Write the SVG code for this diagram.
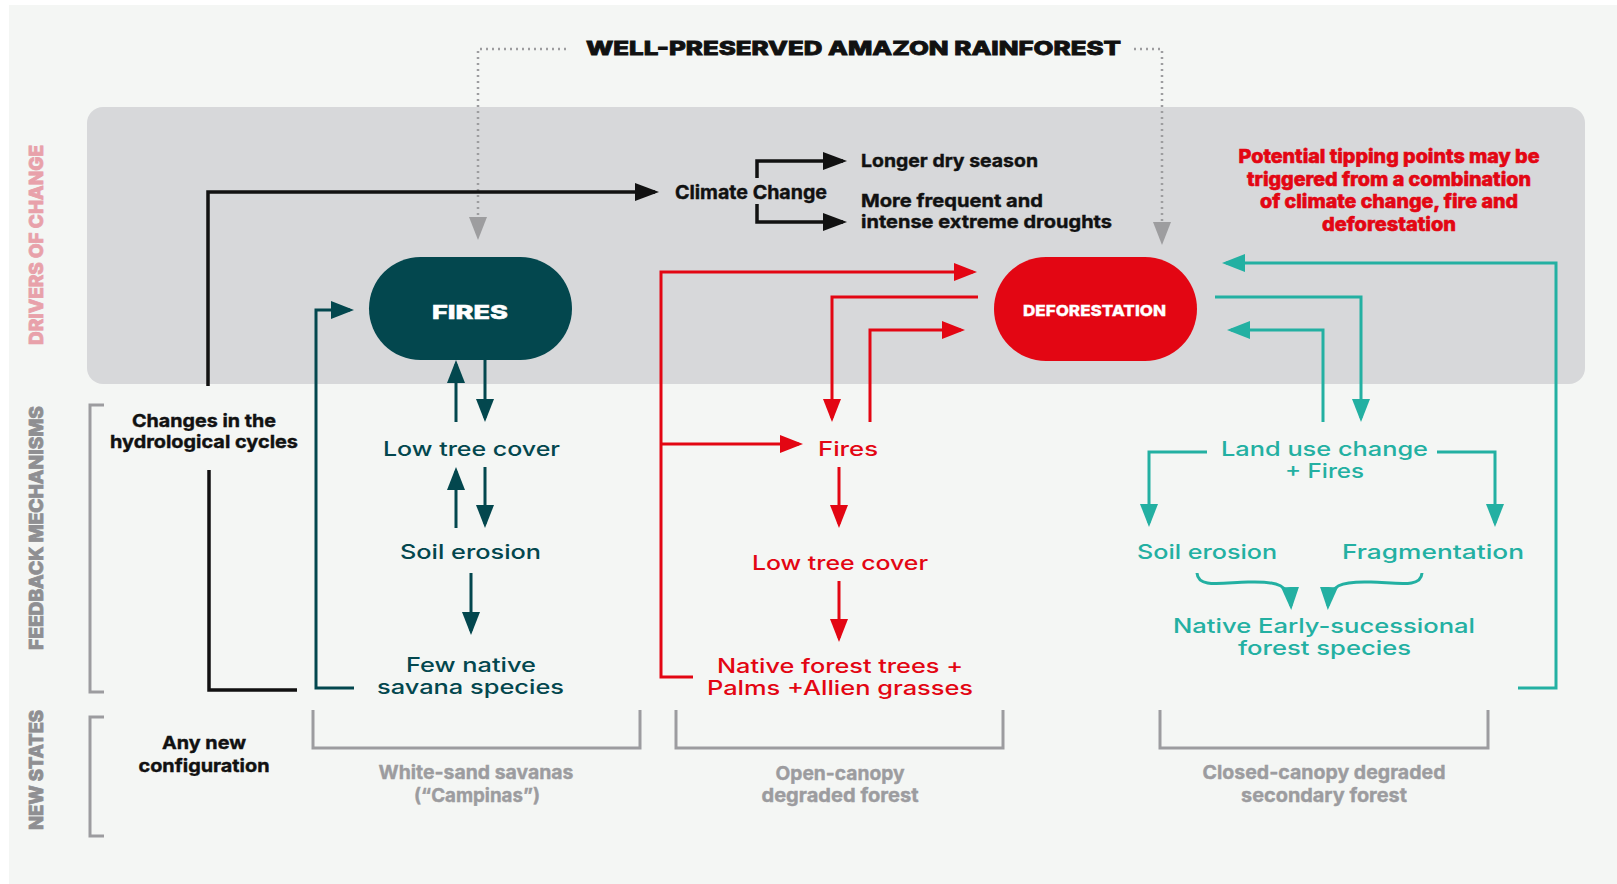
<svg xmlns="http://www.w3.org/2000/svg" width="1617" height="884" viewBox="0 0 1617 884">
<defs>
<style>
.bold{font-family:Inter,"Liberation Sans",Arial,sans-serif;font-weight:700}
.heavy{font-family:Inter,"Liberation Sans",Arial,sans-serif;font-weight:800}
.wide{font-family:Inter,"DejaVu Sans","Liberation Sans",sans-serif;font-size:20px;font-weight:500}
.blk{fill:#111;stroke:#111;stroke-width:0.4}
.blkh{fill:#111;stroke:#111;stroke-width:0.8}
.dk{fill:#03474e}
.rd{fill:#e30613}
.rdh{fill:#e30613;stroke:#e30613;stroke-width:0.6}
.tl{fill:#23b0a2}
.gr{fill:#9c9c9f;stroke:#9c9c9f;stroke-width:0.4}
.ln{fill:none;stroke-width:3;stroke-linejoin:miter}
.lblk{stroke:#111;stroke-width:3.5}
.ldk{stroke:#03474e}
.lrd{stroke:#e30613}
.ltl{stroke:#23b0a2}
.lgr{stroke:#9c9c9f}
.dot{fill:none;stroke:#9d9d9f;stroke-width:2.5;stroke-dasharray:2 4}
</style>
<marker id="aBlk" markerUnits="userSpaceOnUse" viewBox="0 0 24 18" markerWidth="24" markerHeight="18" refX="20" refY="9" orient="auto"><path d="M0,0 L24,9 L0,18 z" fill="#111"/></marker>
<marker id="aDk" markerUnits="userSpaceOnUse" viewBox="0 0 23 18" markerWidth="23" markerHeight="18" refX="19" refY="9" orient="auto"><path d="M0,0 L23,9 L0,18 z" fill="#03474e"/></marker>
<marker id="aRd" markerUnits="userSpaceOnUse" viewBox="0 0 23 18" markerWidth="23" markerHeight="18" refX="19" refY="9" orient="auto"><path d="M0,0 L23,9 L0,18 z" fill="#e30613"/></marker>
<marker id="aTl" markerUnits="userSpaceOnUse" viewBox="0 0 23 18" markerWidth="23" markerHeight="18" refX="19" refY="9" orient="auto"><path d="M0,0 L23,9 L0,18 z" fill="#23b0a2"/></marker>
<marker id="aGr" markerUnits="userSpaceOnUse" viewBox="0 0 23 18" markerWidth="23" markerHeight="18" refX="19" refY="9" orient="auto"><path d="M0,0 L23,9 L0,18 z" fill="#9d9d9f"/></marker>
</defs>
<rect width="1617" height="884" fill="#ffffff"/>
<rect x="9" y="5" width="1608" height="879" fill="#f4f6f4"/>
<rect id="drivers-panel" x="87" y="107" width="1498" height="277" rx="16" fill="#d7d8da"/>

<g id="section-labels" class="heavy" font-size="19" stroke-width="0.8">
<text transform="translate(43,245) rotate(-90)" text-anchor="middle" textLength="200" lengthAdjust="spacingAndGlyphs" fill="#e8a1aa" stroke="#e8a1aa">DRIVERS OF CHANGE</text>
<text transform="translate(43,528) rotate(-90)" text-anchor="middle" textLength="244" lengthAdjust="spacingAndGlyphs" fill="#8f8f92" stroke="#8f8f92">FEEDBACK MECHANISMS</text>
<text transform="translate(43,770) rotate(-90)" text-anchor="middle" textLength="120" lengthAdjust="spacingAndGlyphs" fill="#8f8f92" stroke="#8f8f92">NEW STATES</text>
</g>

<g id="brackets" class="ln lgr">
<path d="M104,405 H90 V692 H104"/>
<path d="M104,717 H90 V836 H104"/>
<path d="M313,710 V748 H640 V710"/>
<path d="M676,710 V748 H1003 V710"/>
<path d="M1160,710 V748 H1488 V710"/>
</g>

<g id="connectors">
<path class="dot" d="M566,49 H478 V236" marker-end="url(#aGr)"/>
<path class="dot" d="M1134,49 H1162 V241" marker-end="url(#aGr)"/>
<path class="ln lblk" d="M208,386 V192 H655" marker-end="url(#aBlk)"/>
<path class="ln lblk" d="M757,178 V161 H843" marker-end="url(#aBlk)"/>
<path class="ln lblk" d="M757,204 V222 H843" marker-end="url(#aBlk)"/>
<path class="ln lblk" d="M209,470 V690 H297"/>
<path class="ln ldk" d="M354,688 H316 V310 H350" marker-end="url(#aDk)"/>
<path class="ln ldk" d="M456,422 V364" marker-end="url(#aDk)"/>
<path class="ln ldk" d="M485,360 V418" marker-end="url(#aDk)"/>
<path class="ln ldk" d="M456,528 V471" marker-end="url(#aDk)"/>
<path class="ln ldk" d="M485,467 V524" marker-end="url(#aDk)"/>
<path class="ln ldk" d="M471,573 V631" marker-end="url(#aDk)"/>
<path class="ln lrd" d="M693,677 H661 V272 H973" marker-end="url(#aRd)"/>
<path class="ln lrd" d="M661,444 H799" marker-end="url(#aRd)"/>
<path class="ln lrd" d="M978,297 H832 V418" marker-end="url(#aRd)"/>
<path class="ln lrd" d="M870,422 V330 H961" marker-end="url(#aRd)"/>
<path class="ln lrd" d="M839,467 V524" marker-end="url(#aRd)"/>
<path class="ln lrd" d="M839,581 V638" marker-end="url(#aRd)"/>
<path class="ln ltl" d="M1518,688 H1556 V263 H1226" marker-end="url(#aTl)"/>
<path class="ln ltl" d="M1215,297 H1361 V418" marker-end="url(#aTl)"/>
<path class="ln ltl" d="M1323,422 V330 H1231" marker-end="url(#aTl)"/>
<path class="ln ltl" d="M1207,452 H1149 V523" marker-end="url(#aTl)"/>
<path class="ln ltl" d="M1437,452 H1495 V523" marker-end="url(#aTl)"/>
<path class="ln ltl" d="M1197,573 C1198,588 1220,583 1248,582 C1278,581 1290,585 1291,606" marker-end="url(#aTl)"/>
<path class="ln ltl" d="M1422,573 C1421,588 1399,583 1371,582 C1341,581 1329,585 1328,606" marker-end="url(#aTl)"/>
</g>

<g id="title" class="heavy blkh" font-size="19">
<text x="586" y="55" textLength="535" lengthAdjust="spacingAndGlyphs">WELL-PRESERVED AMAZON RAINFOREST</text>
</g>

<g id="node-fires">
<rect x="369" y="257" width="203" height="103" rx="51.5" fill="#03474e"/>
<text class="heavy" x="432" y="319" font-size="19" fill="#ffffff" stroke="#ffffff" stroke-width="0.5" textLength="76" lengthAdjust="spacingAndGlyphs">FIRES</text>
</g>
<g id="node-deforestation">
<rect x="994" y="257" width="203" height="104" rx="52" fill="#e30613"/>
<text class="heavy" x="1023" y="316" font-size="15" fill="#ffffff" stroke="#ffffff" stroke-width="0.3" textLength="143" lengthAdjust="spacingAndGlyphs">DEFORESTATION</text>
</g>

<g id="node-climate-change" class="bold blk" font-size="19">
<text x="675" y="199" textLength="152" lengthAdjust="spacingAndGlyphs">Climate Change</text>
</g>
<g id="node-longer-dry-season" class="bold blk" font-size="18">
<text x="861" y="167" textLength="177" lengthAdjust="spacingAndGlyphs">Longer dry season</text>
</g>
<g id="node-droughts" class="bold blk" font-size="18">
<text x="861" y="207" textLength="182" lengthAdjust="spacingAndGlyphs">More frequent and</text>
<text x="861" y="228" textLength="251" lengthAdjust="spacingAndGlyphs">intense extreme droughts</text>
</g>
<g id="note-tipping-points" class="heavy rdh" font-size="19" text-anchor="middle">
<text x="1389" y="163" textLength="301" lengthAdjust="spacingAndGlyphs">Potential tipping points may be</text>
<text x="1389" y="186" textLength="284" lengthAdjust="spacingAndGlyphs">triggered from a combination</text>
<text x="1389" y="208" textLength="258" lengthAdjust="spacingAndGlyphs">of climate change, fire and</text>
<text x="1389" y="231" textLength="134" lengthAdjust="spacingAndGlyphs">deforestation</text>
</g>

<g id="node-hydrological" class="bold blk" font-size="18" text-anchor="middle">
<text x="204" y="427" textLength="144" lengthAdjust="spacingAndGlyphs">Changes in the</text>
<text x="204" y="448" textLength="188" lengthAdjust="spacingAndGlyphs">hydrological cycles</text>
</g>
<g id="node-any-new" class="bold blk" font-size="18" text-anchor="middle">
<text x="204" y="749" textLength="84" lengthAdjust="spacingAndGlyphs">Any new</text>
<text x="204" y="772" textLength="131" lengthAdjust="spacingAndGlyphs">configuration</text>
</g>

<g id="node-low-tree-cover-1" class="wide dk">
<text x="383" y="456" textLength="177" lengthAdjust="spacingAndGlyphs">Low tree cover</text>
</g>
<g id="node-soil-erosion-1" class="wide dk">
<text x="400" y="559" textLength="141" lengthAdjust="spacingAndGlyphs">Soil erosion</text>
</g>
<g id="node-few-native" class="wide dk">
<text x="406" y="672" textLength="130" lengthAdjust="spacingAndGlyphs">Few native</text>
<text x="377" y="694" textLength="187" lengthAdjust="spacingAndGlyphs">savana species</text>
</g>

<g id="node-fires-2" class="wide rd">
<text x="818" y="456" textLength="60" lengthAdjust="spacingAndGlyphs">Fires</text>
</g>
<g id="node-low-tree-cover-2" class="wide rd">
<text x="752" y="570" textLength="176" lengthAdjust="spacingAndGlyphs">Low tree cover</text>
</g>
<g id="node-native-forest" class="wide rd">
<text x="717" y="673" textLength="246" lengthAdjust="spacingAndGlyphs">Native forest trees +</text>
<text x="707" y="695" textLength="266" lengthAdjust="spacingAndGlyphs">Palms +Allien grasses</text>
</g>

<g id="node-land-use" class="wide tl">
<text x="1221" y="456" textLength="207" lengthAdjust="spacingAndGlyphs">Land use change</text>
<text x="1285" y="478" textLength="79" lengthAdjust="spacingAndGlyphs">+ Fires</text>
</g>
<g id="node-soil-erosion-3" class="wide tl">
<text x="1137" y="559" textLength="140" lengthAdjust="spacingAndGlyphs">Soil erosion</text>
</g>
<g id="node-fragmentation" class="wide tl">
<text x="1342" y="559" textLength="182" lengthAdjust="spacingAndGlyphs">Fragmentation</text>
</g>
<g id="node-native-early" class="wide tl">
<text x="1173" y="633" textLength="302" lengthAdjust="spacingAndGlyphs">Native Early-sucessional</text>
<text x="1238" y="655" textLength="173" lengthAdjust="spacingAndGlyphs">forest species</text>
</g>

<g id="state-white-sand" class="bold gr" font-size="19" text-anchor="middle">
<text x="476" y="779" textLength="195" lengthAdjust="spacingAndGlyphs">White-sand savanas</text>
<text x="477" y="802" textLength="126" lengthAdjust="spacingAndGlyphs">(“Campinas”)</text>
</g>
<g id="state-open-canopy" class="bold gr" font-size="19" text-anchor="middle">
<text x="840" y="780" textLength="129" lengthAdjust="spacingAndGlyphs">Open-canopy</text>
<text x="840" y="802" textLength="157" lengthAdjust="spacingAndGlyphs">degraded forest</text>
</g>
<g id="state-closed-canopy" class="bold gr" font-size="19" text-anchor="middle">
<text x="1324" y="779" textLength="243" lengthAdjust="spacingAndGlyphs">Closed-canopy degraded</text>
<text x="1324" y="802" textLength="166" lengthAdjust="spacingAndGlyphs">secondary forest</text>
</g>
</svg>
